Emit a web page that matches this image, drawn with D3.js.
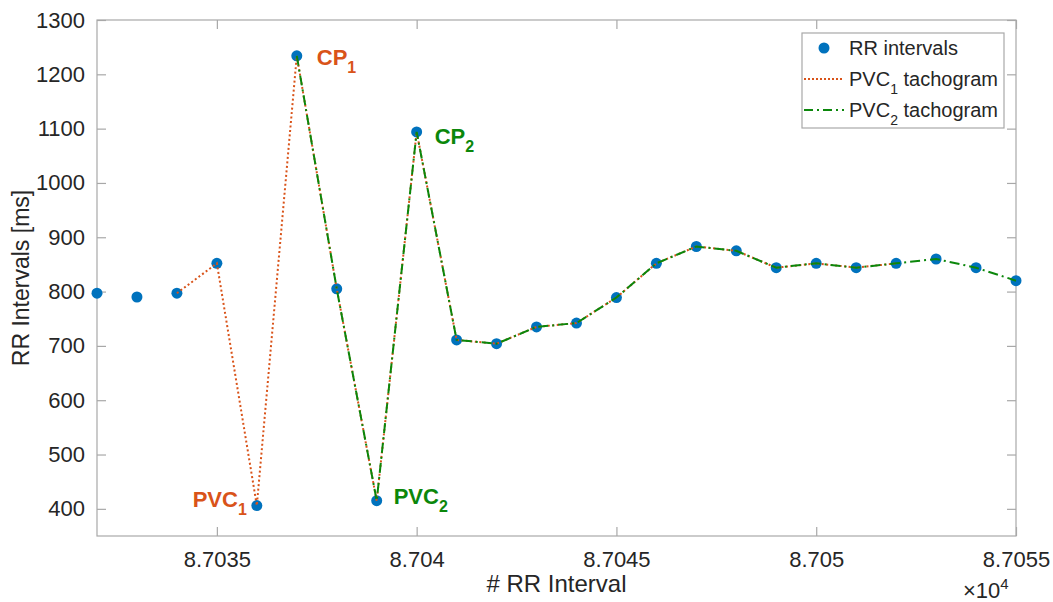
<!DOCTYPE html>
<html>
<head>
<meta charset="utf-8">
<script src="https://cdn.jsdelivr.net/npm/d3@7"></script>
<style>
  body { margin: 0; background: #fff; }
  svg { font-family: "Liberation Sans", Arial, Helvetica, sans-serif; }
</style>
</head>
<body>
<div id="chart"></div>
<script>
// RR interval index and values (ms)
const beatIndex = [87032, 87033, 87034, 87035, 87036, 87037, 87038, 87039, 87040, 87041, 87042, 87043,
  87044, 87045, 87046, 87047, 87048, 87049, 87050, 87051, 87052, 87053, 87054, 87055];
const rrValues = [797, 790, 797, 852, 406, 1234, 805, 415, 1094, 711, 704, 735,
  742, 789, 852, 883, 875, 844, 852, 844, 852, 860, 844, 820];

// beats covered by each tachogram
const pvc1Beats = [87034, 87052];
const pvc2Beats = [87037, 87055];

const xTicks = [87035, 87040, 87045, 87050, 87055];
const yTicks = [400, 500, 600, 700, 800, 900, 1000, 1100, 1200, 1300];

const width = 1053, height = 602;
const margins = { top: 20, right: 37, bottom: 66, left: 97 };
const innerW = width - margins.left - margins.right;
const innerH = height - margins.top - margins.bottom;

const blue = "#0072BD", orange = "#D95319", green = "#0b870b", axisGray = "#a8a8a8", textCol = "#262626";

const svg = d3.select("#chart")
  .append("svg")
  .attr("width", width)
  .attr("height", height)
  .append("g")
  .attr("transform", `translate(${margins.left}, ${margins.top})`);

const x = d3.scaleLinear().domain([87032, 87055]).range([0, innerW]);
const y = d3.scaleLinear().domain([350, 1300]).range([innerH, 0]);

const data = beatIndex.map((b, i) => ({ beat: b, value: rrValues[i] }));

// box
svg.append("rect")
  .attr("width", innerW)
  .attr("height", innerH)
  .attr("fill", "none")
  .attr("stroke", axisGray)
  .attr("stroke-width", 1.2);

// axes (ticks pointing inward, mirrored)
const styleAxis = g => {
  g.select(".domain").remove();
  g.selectAll(".tick line").attr("stroke", axisGray).attr("stroke-width", 1.2);
  g.selectAll(".tick text").attr("fill", textCol).style("font-size", "22px");
};

svg.append("g")
  .attr("transform", `translate(0, ${innerH})`)
  .call(d3.axisBottom(x).tickValues(xTicks).tickSizeInner(-9).tickPadding(15)
    .tickFormat(d => String(+(d / 1e4).toFixed(4))))
  .call(styleAxis);

svg.append("g")
  .call(d3.axisTop(x).tickValues(xTicks).tickSizeInner(-9).tickFormat(""))
  .call(styleAxis);

svg.append("g")
  .call(d3.axisLeft(y).tickValues(yTicks).tickSizeInner(-9).tickPadding(12).tickFormat(d3.format("d")))
  .call(styleAxis);

svg.append("g")
  .attr("transform", `translate(${innerW}, 0)`)
  .call(d3.axisRight(y).tickValues(yTicks).tickSizeInner(-9).tickFormat(""))
  .call(styleAxis);

// exponent label
const expo = svg.append("text")
  .attr("x", innerW - 53)
  .attr("y", innerH + 62)
  .attr("fill", textCol)
  .style("font-size", "22px");
expo.append("tspan").text("\u00d710");
expo.append("tspan").attr("dy", -9).style("font-size", "15px").text("4");

// axis titles
svg.append("text")
  .attr("x", innerW / 2)
  .attr("y", innerH + 56)
  .attr("text-anchor", "middle")
  .attr("fill", textCol)
  .style("font-size", "24px")
  .text("# RR Interval");

svg.append("text")
  .attr("transform", "rotate(-90)")
  .attr("x", -innerH / 2)
  .attr("y", -68)
  .attr("text-anchor", "middle")
  .attr("fill", textCol)
  .style("font-size", "23px")
  .text("RR Intervals [ms]");

// points
svg.append("g")
  .selectAll("circle")
  .data(data)
  .join("circle")
  .attr("cx", d => x(d.beat))
  .attr("cy", d => y(d.value))
  .attr("r", 5.5)
  .attr("fill", blue);

const line = d3.line().x(d => x(d.beat)).y(d => y(d.value));

svg.append("path")
  .datum(data.filter(d => d.beat >= pvc1Beats[0] && d.beat <= pvc1Beats[1]))
  .attr("d", line)
  .attr("fill", "none")
  .attr("stroke", orange)
  .attr("stroke-width", 2)
  .attr("stroke-dasharray", "2,2.5");

svg.append("path")
  .datum(data.filter(d => d.beat >= pvc2Beats[0] && d.beat <= pvc2Beats[1]))
  .attr("d", line)
  .attr("fill", "none")
  .attr("stroke", green)
  .attr("stroke-width", 2)
  .attr("stroke-dasharray", "10,4,2,4");

// annotations
const annotations = [
  { label: "CP", sub: "1", beat: 87037, color: orange, dx: 20, dy: 9, anchor: "start" },
  { label: "CP", sub: "2", beat: 87040, color: green, dx: 18, dy: 12, anchor: "start" },
  { label: "PVC", sub: "1", beat: 87036, color: orange, dx: -10, dy: 1, anchor: "end" },
  { label: "PVC", sub: "2", beat: 87039, color: green, dx: 17, dy: 3, anchor: "start" }
];

annotations.forEach(a => {
  const d = data.find(p => p.beat === a.beat);
  const t = svg.append("text")
    .attr("x", x(d.beat) + a.dx)
    .attr("y", y(d.value) + a.dy)
    .attr("text-anchor", a.anchor)
    .attr("fill", a.color)
    .style("font-size", "22px")
    .style("font-weight", "bold");
  t.append("tspan").text(a.label);
  t.append("tspan").attr("dy", 8).style("font-size", "16px").text(a.sub);
});

// legend
const legend = svg.append("g").attr("transform", `translate(${innerW - 214}, 13)`);
legend.append("rect")
  .attr("width", 202)
  .attr("height", 95)
  .attr("fill", "#fff")
  .attr("stroke", axisGray)
  .attr("stroke-width", 1.2);

const legendItems = [
  { type: "dot", label: "RR intervals", sub: null, after: "" },
  { type: "dotted", label: "PVC", sub: "1", after: " tachogram" },
  { type: "dashdot", label: "PVC", sub: "2", after: " tachogram" }
];

legendItems.forEach((item, i) => {
  const cy = 15 + i * 31;
  if (item.type === "dot") {
    legend.append("circle").attr("cx", 22).attr("cy", cy).attr("r", 5.5).attr("fill", blue);
  } else {
    legend.append("line")
      .attr("x1", 2).attr("x2", 42).attr("y1", cy).attr("y2", cy)
      .attr("stroke", item.type === "dotted" ? orange : green)
      .attr("stroke-width", 2)
      .attr("stroke-dasharray", item.type === "dotted" ? "2,2" : "9,4,2,4");
  }
  const t = legend.append("text")
    .attr("x", 47)
    .attr("y", cy + 7)
    .attr("fill", textCol)
    .style("font-size", "20px");
  t.append("tspan").text(item.label);
  if (item.sub) {
    t.append("tspan").attr("dy", 8).style("font-size", "14px").text(item.sub);
    t.append("tspan").attr("dy", -8).text(item.after);
  }
});
</script>
</body>
</html>
